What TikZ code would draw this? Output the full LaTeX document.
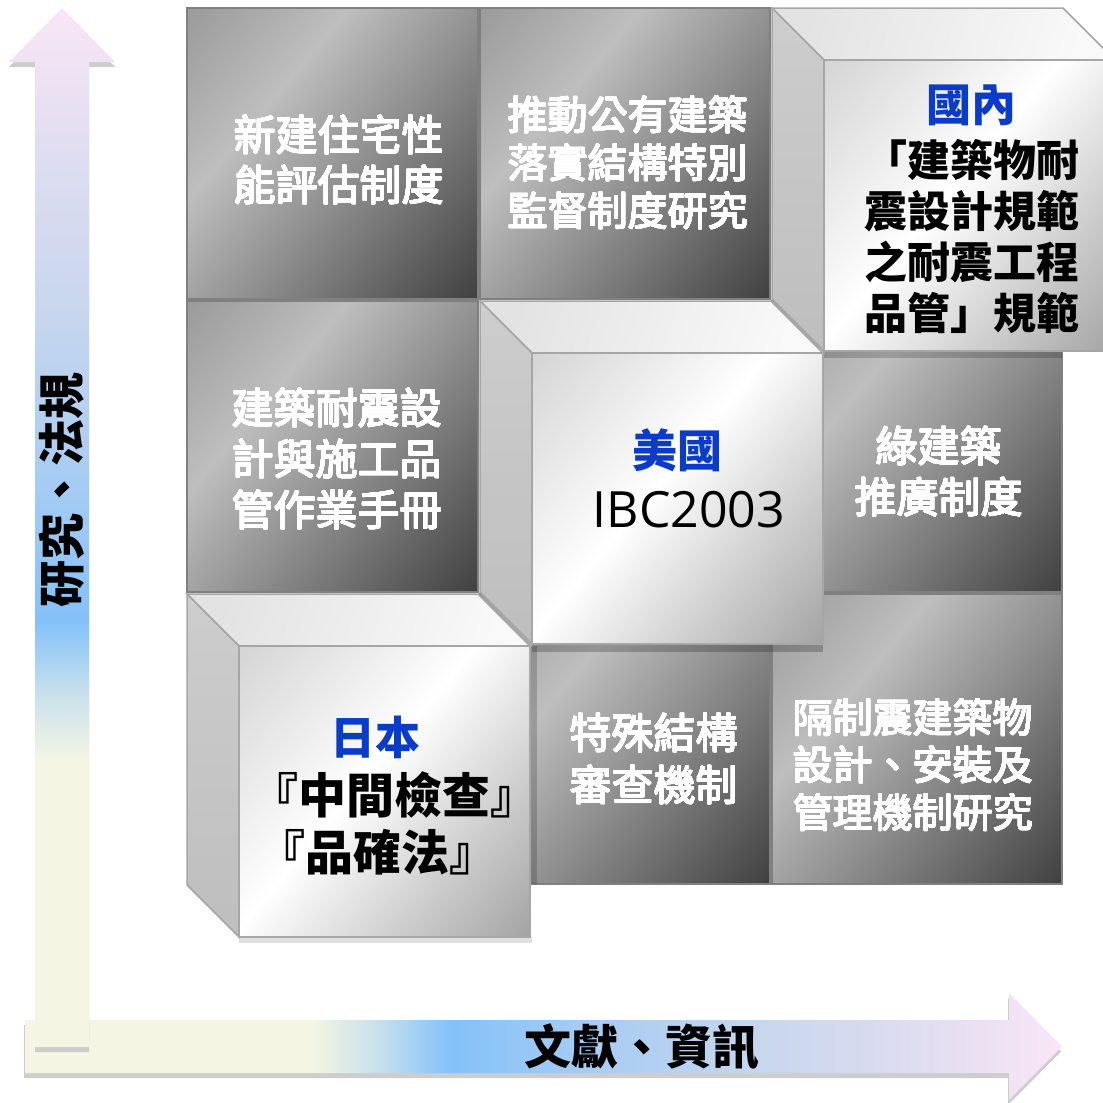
\documentclass[tikz,border=0pt]{standalone}
\usepackage{fontspec}
\usepackage{contour}
\contourlength{0.5pt}
\contournumber{24}
\setmainfont{Noto Sans CJK TC}
\newfontfamily\cjkmid{Noto Sans CJK TC}
\newfontfamily\latinfont{Open Sans}
\newcommand{\wl}[1]{\contour{white}{#1}}
% dark cell shading
\definecolor{dcA}{HTML}{9C9C9C}
\definecolor{dcB}{HTML}{BEBEBE}
\definecolor{dcC}{HTML}{8C8C8C}
\definecolor{dcD}{HTML}{414141}
\pgfdeclarehorizontalshading{darkcell}{100bp}{color(0bp)=(dcA); color(16bp)=(dcA); color(36bp)=(dcB); color(56bp)=(dcC); color(85bp)=(dcD); color(100bp)=(dcD)}
% light cube front shading
\definecolor{lcA}{HTML}{D6D6D6}
\definecolor{lcB}{HTML}{FFFFFF}
\definecolor{lcC}{HTML}{A4A4A4}
\pgfdeclarehorizontalshading{lightcell}{100bp}{color(0bp)=(lcA); color(16bp)=(lcA); color(46bp)=(lcB); color(85bp)=(lcC); color(100bp)=(lcC)}
% top face
\definecolor{tfA}{HTML}{E3E3E3}
\definecolor{tfB}{HTML}{F9F9F9}
\pgfdeclarehorizontalshading{topface}{100bp}{color(0bp)=(tfA); color(25bp)=(tfA); color(75bp)=(tfB); color(100bp)=(tfB)}
% left face
\definecolor{lfA}{HTML}{CDCDCD}
\definecolor{lfB}{HTML}{BEBEBE}
\pgfdeclareverticalshading{leftface}{100bp}{color(0bp)=(lfB); color(25bp)=(lfB); color(75bp)=(lfA); color(100bp)=(lfA)}
% arrows
\definecolor{arCream}{HTML}{F4F6E3}
\definecolor{arMix}{HTML}{C8E0EC}
\definecolor{arBlue}{HTML}{84C1F9}
\definecolor{arBlueB}{HTML}{A6CCF3}
\definecolor{arGray}{HTML}{C6D6EE}
\definecolor{arLav}{HTML}{DCDCF0}
\definecolor{arPink}{HTML}{F9E6F6}
\pgfdeclareverticalshading{vertarrow}{100bp}{color(0bp)=(arCream); color(38.8bp)=(arCream); color(42bp)=(arMix); color(45.5bp)=(arBlue); color(52bp)=(arBlueB); color(60bp)=(arGray); color(67bp)=(arLav); color(75bp)=(arPink); color(100bp)=(arPink)}
\pgfdeclarehorizontalshading{horarrow}{100bp}{color(0bp)=(arCream); color(38.8bp)=(arCream); color(42bp)=(arMix); color(45.5bp)=(arBlue); color(52bp)=(arBlueB); color(60bp)=(arGray); color(67bp)=(arLav); color(75bp)=(arPink); color(100bp)=(arPink)}
\definecolor{cellborder}{HTML}{808080}
\definecolor{edgegray}{HTML}{A6A6A6}
\definecolor{cnblue}{HTML}{0A3CC8}
\definecolor{shadowgray}{HTML}{CDCDCD}

\tikzset{
  darkbox/.style={shade, shading=darkcell, shading angle=-40, draw=cellborder, line width=2pt, inner sep=0pt, outer sep=0pt},
  frontbox/.style={shade, shading=lightcell, shading angle=-40, draw=edgegray, line width=1.5pt, inner sep=0pt, outer sep=0pt, minimum width=291pt, minimum height=291pt},
  topf/.style={shade, shading=topface, shading angle=-20, draw=edgegray, line width=1.5pt},
  leftf/.style={shade, shading=leftface, draw=edgegray, line width=1.5pt},
  whitetxt/.style={text=white, align=center, inner sep=0pt, font=\cjkmid\fontsize{42pt}{50pt}\selectfont},
  blacktxt/.style={text=black, align=center, inner sep=0pt, font=\bfseries\fontsize{43pt}{51pt}\selectfont},
  bluetxt/.style={text=cnblue, inner sep=0pt, font=\bfseries\fontsize{45pt}{51pt}\selectfont},
  axistxt/.style={text=black, inner sep=0pt, font=\bfseries\fontsize{47pt}{50pt}\selectfont},
}

\begin{document}
\begin{tikzpicture}[x=1pt, y=-1pt]
\useasboundingbox (0,0) rectangle (1103,1103);
\clip (0,0) rectangle (1103,1103);

% ---------- axes arrows ----------
\fill[shadowgray, shift={(-1,5)}] (25,1020) -- (1009,1020) -- (1009,993) -- (1062,1046.5) -- (1009,1100) -- (1009,1073) -- (25,1073) -- cycle;
\shade[shading=horarrow] (25,1020) -- (1009,1020) -- (1009,993) -- (1062,1046.5) -- (1009,1100) -- (1009,1073) -- (25,1073) -- cycle;
\fill[shadowgray, shift={(0,5)}] (62,8) -- (115,62) -- (89,62) -- (89,1047) -- (35,1047) -- (35,62) -- (9,62) -- cycle;
\shade[shading=vertarrow] (62,8) -- (115,62) -- (89,62) -- (89,1047) -- (35,1047) -- (35,62) -- (9,62) -- cycle;

\node[axistxt, rotate=90] (ylab) at (62,490) {研究、法規};
\node[axistxt] (xlab) at (642,1047) {文獻、資訊};

% ---------- flat cells ----------
\node[darkbox, minimum width=291pt, minimum height=291pt] (c11) at (332.5,153.5) {};
\node[darkbox, minimum width=290pt, minimum height=291pt] (c12) at (625,153.5) {};
\node[darkbox, minimum width=291pt, minimum height=291pt] (c21) at (332.5,446.5) {};
\node[darkbox, minimum width=290pt, minimum height=291pt] (c23) at (917,446.5) {};
\node[darkbox, minimum width=290pt, minimum height=290pt] (c32) at (625,739) {};
\node[darkbox, minimum width=290pt, minimum height=290pt] (c33) at (917,739) {};

% ---------- shadows of raised cubes ----------
\fill[black, opacity=0.18] (824,351) rectangle (1062,358);
\fill[black, opacity=0.22] (532,644) rectangle (823,652);
\fill[black, opacity=0.18] (530,646) rectangle (537,884);
\fill[black, opacity=0.12] (239,937) rectangle (532,943);

% ---------- cube A (top right) ----------
\path[topf] (772,8) -- (1063,8) -- (1115,60) -- (824,60) -- cycle;
\path[leftf] (772,8) -- (824,60) -- (824,351) -- (772,299) -- cycle;
\node[frontbox] (fA) at (969.5,205.5) {};

% ---------- cube B (centre) ----------
\path[topf] (480,301) -- (771,301) -- (823,353) -- (532,353) -- cycle;
\path[leftf] (480,301) -- (532,353) -- (532,644) -- (480,592) -- cycle;
\node[frontbox] (fB) at (677.5,498.5) {};

% ---------- cube C (bottom left) ----------
\path[topf] (187,594) -- (478,594) -- (530,646) -- (239,646) -- cycle;
\path[leftf] (187,594) -- (239,646) -- (239,937) -- (187,885) -- cycle;
\node[frontbox] (fC) at (384.5,791.5) {};

% ---------- texts ----------
\node[whitetxt] (t11) at (339,160) {\wl{新建住宅性}\\\wl{能評估制度}};
\node[whitetxt, font=\cjkmid\fontsize{40pt}{48pt}\selectfont] (t12) at (628,163) {\wl{推動公有建築}\\\wl{落實結構特別}\\\wl{監督制度研究}};
\node[whitetxt, font=\cjkmid\fontsize{42pt}{51pt}\selectfont] (t21) at (337,459) {\wl{建築耐震設}\\\wl{計與施工品}\\\wl{管作業手冊}};
\node[whitetxt, font=\cjkmid\fontsize{42pt}{51pt}\selectfont] (t23) at (939,472) {\wl{綠建築}\\\wl{推廣制度}};
\node[whitetxt, font=\cjkmid\fontsize{42pt}{52pt}\selectfont] (t32) at (654,759) {\wl{特殊結構}\\\wl{審查機制}};
\node[whitetxt, font=\cjkmid\fontsize{40pt}{47.5pt}\selectfont] (t33) at (913,765) {\wl{隔制震建築物}\\\wl{設計、安裝及}\\\wl{管理機制研究}};

\node[bluetxt] (tA1) at (971,105) {國內};
\node[blacktxt] (tA2) at (972,236.5) {「建築物耐\\震設計規範\\之耐震工程\\品管」規範};

\node[bluetxt] (tB1) at (677,450) {美國};
\node[text=black, inner sep=0pt, font=\latinfont\fontsize{50pt}{60pt}\selectfont] (tB2) at (689,510) {IBC2003};

\node[bluetxt] (tC1) at (375,737) {日本};
\node[blacktxt, font=\bfseries\fontsize{48pt}{57pt}\selectfont] (tC2) at (394,795) {『中間檢查』};
\node[blacktxt, font=\bfseries\fontsize{48pt}{57pt}\selectfont] (tC3) at (377,852) {『品確法』};
\end{tikzpicture}
\end{document}
